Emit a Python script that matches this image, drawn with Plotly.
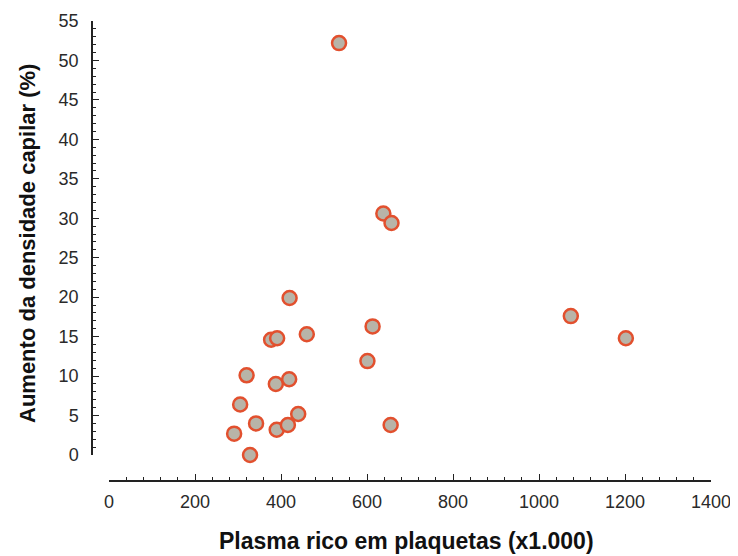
import plotly.graph_objects as go

# Data
prp = [291, 305, 320, 328, 342, 377, 391, 388, 390, 416, 420, 419, 440, 460,
       535, 601, 613, 638, 657, 655, 1074, 1202]
aumento = [2.7, 6.4, 10.1, 0.0, 4.0, 14.6, 14.8, 9.0, 3.2, 3.8, 19.9, 9.6, 5.2, 15.3,
           52.2, 11.9, 16.3, 30.6, 29.4, 3.8, 17.6, 14.8]

x_ticks = [0, 200, 400, 600, 800, 1000, 1200, 1400]
y_ticks = [0, 5, 10, 15, 20, 25, 30, 35, 40, 45, 50, 55]

x_title = "Plasma rico em plaquetas (x1.000)"
y_title = "Aumento da densidade capilar (%)"

W, H = 738, 556
# page body has an 8px margin, so figure coords = screen coords - 8
OFF = 8
ml, mr, mt, mb = 92 - OFF, W - (711 - OFF), 21 - OFF, H - (481 - OFF)
pw = W - ml - mr
ph = H - mt - mb

axis_color = "#222222"
font_family = "Liberation Sans, Arial, sans-serif"

fig = go.Figure()
fig.add_trace(go.Scatter(
    x=prp, y=aumento, mode="markers",
    marker=dict(size=14, color="#b8b4a8",
                line=dict(color="#e2502e", width=2.5)),
    showlegend=False, cliponaxis=False,
))

common = dict(
    showline=True, linecolor=axis_color, linewidth=1.5,
    ticks="inside", ticklen=6, tickwidth=1.2, tickcolor=axis_color,
    showgrid=False, zeroline=False, automargin=False,
    tickfont=dict(size=18, color="#2a2a2a"),
)

fig.update_layout(
    width=W, height=H,
    margin=dict(l=ml, r=mr, t=mt, b=mb, autoexpand=False),
    plot_bgcolor="white", paper_bgcolor="white",
    font=dict(family=font_family, color=axis_color),
    xaxis=dict(
        domain=[(109 - 92) / pw, 1], anchor="free", position=0,
        range=[0, 1400], tickvals=x_ticks,
        ticktext=[str(v) for v in x_ticks],
        minor=dict(dtick=40, ticks="inside", ticklen=3, tickwidth=1, tickcolor=axis_color),
        ticklabelstandoff=5,
        **common,
    ),
    yaxis=dict(
        domain=[(481 - 455) / ph, 1], anchor="free", position=0,
        range=[0, 55], tickvals=y_ticks,
        ticktext=[str(v) for v in y_ticks],
        minor=dict(dtick=1, ticks="inside", ticklen=3, tickwidth=1, tickcolor=axis_color),
        ticklabelstandoff=9,
        **common,
    ),
    annotations=[
        dict(text=x_title, xref="paper", yref="paper",
             x=(406 - 92) / pw, y=(481 - 541) / ph,
             xanchor="center", yanchor="middle", showarrow=False,
             font=dict(size=23, color="#111111", family=font_family, weight="bold")),
        dict(text=y_title, xref="paper", yref="paper",
             x=(27 - 92) / pw, y=(481 - 244) / ph, textangle=-90,
             xanchor="center", yanchor="middle", showarrow=False,
             font=dict(size=22, color="#111111", family=font_family, weight="bold")),
    ],
)

fig.write_html("out.html")
